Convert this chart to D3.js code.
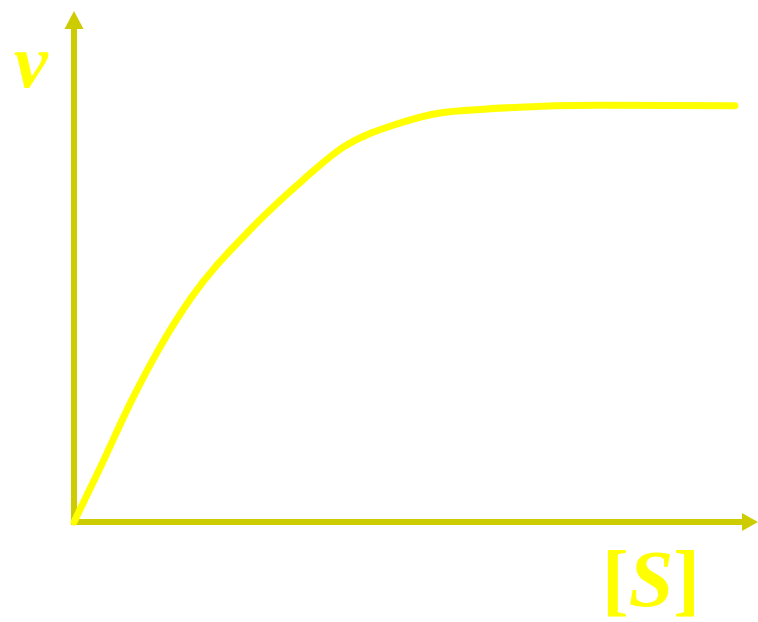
<!DOCTYPE html>
<meta charset="utf-8">
<head>
    <meta charset="utf-8">
    <title>v vs [S]</title>
    <script src="https://d3js.org/d3.v7.min.js" charset="utf-8"></script>
    <style>
        html, body {
            margin: 0;
            padding: 0;
            background: #fff;
        }
        .curve {
            fill: none;
            stroke: #ffff00;
            stroke-width: 7px;
            stroke-linecap: round;
            stroke-linejoin: round;
        }
        .axis-line {
            stroke: #cccc00;
            stroke-width: 6px;
        }
        .label {
            fill: #ffff00;
            font-family: "Liberation Serif", "DejaVu Serif", serif;
            font-weight: bold;
        }
    </style>
</head>
<body>
<div class="chart"></div>
<script>

// [S] (substrate concentration) and v (rate), arbitrary units 0-100
var sValues = [0, 3.9, 8.5, 12.4, 17.2, 25.9, 33.7, 39.6, 47.9, 53.8, 59.7, 77.4, 97.2];
var vValues = [0, 10.8, 23.9, 33.7, 43.9, 57.3, 67.1, 73.5, 78.2, 80.2, 80.9, 81.7, 81.6];

var xLabel = "S";
var yLabel = "v";

var width = 758, height = 622;

var svg = d3.select(".chart")
    .append("svg")
    .attr("width", width)
    .attr("height", height);

var xScale = d3.scaleLinear().domain([0, 100]).range([74, 754]);
var yScale = d3.scaleLinear().domain([0, 100]).range([522, 12]);

var data = sValues.map((s, i) => ({s: s, v: vValues[i]}));

// axes (plain arrows, no ticks)
var x0 = xScale(0), y0 = yScale(0);
var xEnd = xScale(100), yEnd = yScale(100);

svg.append("line")
    .attr("class", "axis-line")
    .attr("x1", x0).attr("y1", y0 + 3)
    .attr("x2", x0).attr("y2", yEnd + 14);

svg.append("line")
    .attr("class", "axis-line")
    .attr("x1", x0 - 3).attr("y1", y0)
    .attr("x2", xEnd - 12).attr("y2", y0);

// arrow heads
svg.append("path")
    .attr("fill", "#cccc00")
    .attr("d", "M" + x0 + "," + (yEnd - 1) + " L" + (x0 - 9.5) + "," + (yEnd + 17) + " L" + (x0 + 9.5) + "," + (yEnd + 17) + "Z");

svg.append("path")
    .attr("fill", "#cccc00")
    .attr("d", "M" + (xEnd + 4) + "," + y0 + " L" + (xEnd - 12) + "," + (y0 - 9) + " L" + (xEnd - 12) + "," + (y0 + 9) + "Z");

// curve
var line = d3.line()
    .curve(d3.curveMonotoneX)
    .x(d => xScale(d.s))
    .y(d => yScale(d.v));

svg.append("path")
    .datum(data)
    .attr("class", "curve")
    .attr("d", line);

// labels
svg.append("text")
    .attr("class", "label")
    .attr("x", 14)
    .attr("y", 87)
    .style("font-size", "76px")
    .style("font-style", "italic")
    .text(yLabel);

var sText = svg.append("text")
    .attr("class", "label")
    .attr("x", 602)
    .attr("y", 606)
    .style("font-size", "80px");
sText.append("tspan").text("[");
sText.append("tspan").style("font-style", "italic").text(xLabel);
sText.append("tspan").text("]");

</script>
</body>
